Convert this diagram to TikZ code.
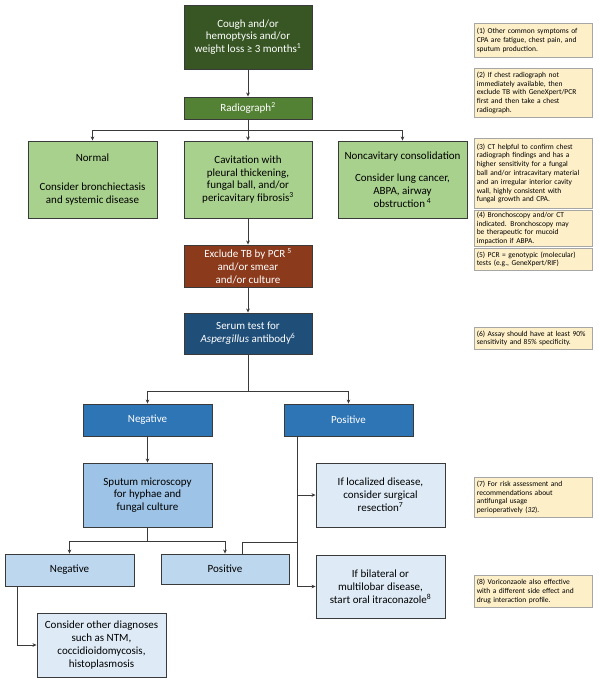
\documentclass[tikz,border=0pt]{standalone}
\usepackage{fontspec}
\setmainfont{Carlito}
\usetikzlibrary{arrows.meta}

\definecolor{darkgreen}{HTML}{375623}
\definecolor{midgreen}{HTML}{548235}
\definecolor{lightgreen}{HTML}{A9D18E}
\definecolor{rust}{HTML}{8B3A1C}
\definecolor{navy}{HTML}{1F4E79}
\definecolor{midblue}{HTML}{2E75B6}
\definecolor{skyblue}{HTML}{9DC3E6}
\definecolor{paleblue}{HTML}{BDD7EE}
\definecolor{palerblue}{HTML}{DEEBF7}
\definecolor{notefill}{HTML}{FDEFC8}
\definecolor{notegray}{HTML}{A6A6A6}
\definecolor{boxline}{HTML}{3A3A3A}

\begin{document}
\begin{tikzpicture}[x=1pt,y=-1pt,
    box/.style={draw=boxline, line width=0.9pt, align=center, inner sep=1.5pt,
                font=\fontsize{11}{12.8}\selectfont},
    dark/.style={box, text=white},
    note/.style={draw=notegray, fill=notefill, line width=0.6pt, anchor=north west,
                 align=left, text width=113pt, inner xsep=2.5pt, inner ysep=1.5pt,
                 font=\fontsize{7.5}{8.8}\selectfont},
    arr/.style={-{Stealth[length=4pt,width=3.6pt]}, line width=0.8pt, draw=boxline},
    link/.style={line width=0.8pt, draw=boxline}]
\useasboundingbox (0,0) rectangle (600,689);

% main column
\node[dark, fill=darkgreen, minimum width=128, minimum height=64] (cough) at (248,37)
  {Cough and/or\\hemoptysis and/or\\weight loss ≥ 3 months\textsuperscript{1}};
\node[dark, fill=midgreen, minimum width=128, minimum height=22] (radio) at (248,108)
  {Radiograph\textsuperscript{2}};
\node[box, fill=lightgreen, minimum width=129, minimum height=77] (normal) at (92.5,179.5)
  {Normal\\[16pt]Consider bronchiectasis\\and systemic disease};
\node[box, fill=lightgreen, minimum width=128, minimum height=77] (cavit) at (248,179.5)
  {Cavitation with\\pleural thickening,\\fungal ball, and/or\\pericavitary fibrosis\textsuperscript{3}};
\node[box, fill=lightgreen, minimum width=129, minimum height=77] (noncav) at (402.5,179.5)
  {Noncavitary consolidation\\[10pt]Consider lung cancer,\\ABPA, airway\\obstruction\,\textsuperscript{4}};
\node[dark, fill=rust, minimum width=128, minimum height=42] (excl) at (248,266)
  {Exclude TB by PCR\,\textsuperscript{5}\\and/or smear\\and/or culture};
\node[dark, fill=navy, minimum width=128, minimum height=41] (serum) at (248,333.5)
  {Serum test for\\\textit{Aspergillus} antibody\textsuperscript{6}};
\node[dark, fill=midblue, minimum width=129, minimum height=32] (neg) at (147.5,420) {Negative};
\node[dark, fill=midblue, minimum width=129, minimum height=32] (pos) at (348.5,420) {Positive};
\node[box, fill=skyblue, minimum width=129, minimum height=64] (sputum) at (147.5,495)
  {Sputum microscopy\\for hyphae and\\fungal culture};
\node[box, fill=palerblue, minimum width=129, minimum height=64] (local) at (380.5,495)
  {If localized disease,\\consider surgical\\resection\textsuperscript{7}};
\node[box, fill=palerblue, minimum width=129, minimum height=63] (bilat) at (380.5,586.5)
  {If bilateral or\\multilobar disease,\\start oral itraconazole\textsuperscript{8}};
\node[box, fill=paleblue, minimum width=129, minimum height=32] (neg2) at (69.5,570) {Negative};
\node[box, fill=paleblue, minimum width=128, minimum height=30] (pos2) at (225,569) {Positive};
\node[box, fill=palerblue, minimum width=129, minimum height=64] (other) at (101.5,645)
  {Consider other diagnoses\\such as NTM,\\coccidioidomycosis,\\histoplasmosis};

% connectors
\draw[arr] (cough) -- (radio);
\draw[arr] (radio.south) -- ++(0,11) -| (normal.north);
\draw[arr] (radio.south) -- ++(0,11) -| (noncav.north);
\draw[arr] (radio) -- (cavit);
\draw[arr] (cavit) -- (excl);
\draw[arr] (excl) -- (serum);
\draw[arr] (serum.south) -- ++(0,37) -| (neg.north);
\draw[arr] (serum.south) -- ++(0,37) -| (pos.north);
\draw[arr] (neg) -- (sputum);
\coordinate (trunk) at (297,586.5);
\coordinate (join) at (297,542);
\draw[link] (pos.south -| trunk) -- (trunk);
\draw[arr] (trunk |- local.west) -- (local.west);
\draw[arr] (trunk) -- (bilat.west);
\draw[arr] (sputum.south) -- ++(0,14) -| (neg2.north);
\draw[arr] (sputum.south) -- ++(0,14) -| (pos2.north);
\draw[link] ([xshift=17pt]pos2.north) |- (join);
\draw[arr] ([xshift=13pt]neg2.south west) |- (other.west);

% footnotes
\node[note, minimum height=34] (n1) at (474,23)
  {(1) Other common symptoms of\\CPA are fatigue, chest pain, and\\sputum production.};
\node[note, minimum height=49] (n2) at (474,68)
  {(2) If chest radiograph not\\immediately available, then\\exclude TB with GeneXpert/PCR\\first and then take a chest\\radiograph.};
\node[note, minimum height=70] (n3) at (474,138)
  {(3) CT helpful to confirm chest\\radiograph findings and has a\\higher sensitivity for a fungal\\ball and/or intracavitary material\\and an irregular interior cavity\\wall, highly consistent with\\fungal growth and CPA.};
\node[note, minimum height=36] (n4) at (474,210)
  {(4) Bronchoscopy and/or CT\\indicated. Bronchoscopy may\\be therapeutic for mucoid\\impaction if ABPA.};
\node[note, minimum height=22] (n5) at (474,248)
  {(5) PCR = genotypic (molecular)\\tests (e.g., GeneXpert/RIF)};
\node[note, minimum height=22] (n6) at (474,327)
  {(6) Assay should have at least 90\%\\sensitivity and 85\% specificity.};
\node[note, minimum height=40] (n7) at (474,477)
  {(7) For risk assessment and\\recommendations about\\antifungal usage\\perioperatively (\textit{32}).};
\node[note, minimum height=32] (n8) at (474,575)
  {(8) Voriconzaole also effective\\with a different side effect and\\drug interaction profile.};
\end{tikzpicture}
\end{document}
